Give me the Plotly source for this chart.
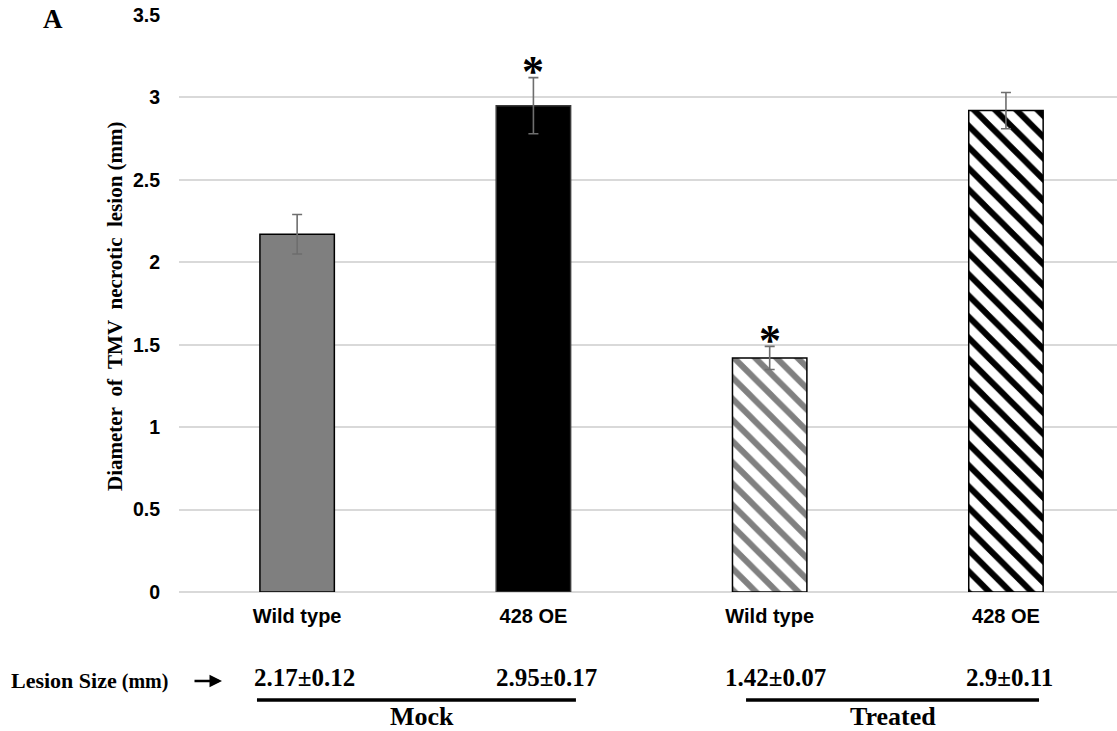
import plotly.graph_objects as go

# ---- data ----
categories = ["Wild type", "428 OE", "Wild type", "428 OE"]
groups = ["Mock", "Treated"]
values = [2.17, 2.95, 1.42, 2.92]
errors = [0.12, 0.17, 0.07, 0.11]
significant = [False, True, True, False]
value_labels = ["2.17±0.12", "2.95±0.17", "1.42±0.07", "2.9±0.11"]
y_ticks = [0, 0.5, 1, 1.5, 2, 2.5, 3, 3.5]
y_ticktext = ["0", "0.5", "1", "1.5", "2", "2.5", "3", "3.5"]

W, H = 1117, 731
L, R, T, B = 179, 0, 15, 139
pw, ph = W - L - R, H - T - B

def px(xp):
    return (xp - L) / pw

def py(yp):
    return (H - B - yp) / ph

SANS = "Liberation Sans, Arial, sans-serif"
SERIF = "Liberation Serif, Times New Roman, serif"

x_idx = list(range(len(categories)))

fill_colors = ["#7f7f7f", "#000000", "#ffffff", "#ffffff"]
line_colors = ["#000000", "#3a3a3a", "#000000", "#000000"]
pattern_shapes = ["", "", "\\", "\\"]
pattern_fg = ["#7f7f7f", "#000000", "#808080", "#000000"]

fig = go.Figure()
for i in x_idx:
    marker = dict(color=fill_colors[i], line=dict(color=line_colors[i], width=1.5))
    if pattern_shapes[i]:
        marker["pattern"] = dict(shape=pattern_shapes[i], fgcolor=pattern_fg[i],
                                 bgcolor="#ffffff", size=15, solidity=0.4,
                                 fillmode="replace", fgopacity=1)
    fig.add_trace(go.Bar(
        x=[i], y=[values[i]], width=0.315, marker=marker,
        error_y=dict(type="data", array=[errors[i]], visible=True, color="#6e6e6e",
                     thickness=1.6, width=5),
        showlegend=False, hoverinfo="skip",
    ))

annotations = []
# significance asterisks
for i, (v, e, s) in enumerate(zip(values, errors, significant)):
    if s:
        annotations.append(dict(x=i, y=v + e, xref="x", yref="y", text="<b>*</b>",
                                showarrow=False, yanchor="middle", yshift=6,
                                font=dict(family=SERIF, size=44, color="#000")))

# value labels below axis
val_shift = [7, 13, 6, 4]
for i, lab in enumerate(value_labels):
    annotations.append(dict(x=i, y=py(677), xref="x", yref="paper", text="<b>%s</b>" % lab,
                            showarrow=False, xshift=val_shift[i], yanchor="middle",
                            font=dict(family=SERIF, size=25, color="#000")))

# group labels
group_x = [0.53, 2.52]
for gx, g in zip(group_x, groups):
    annotations.append(dict(x=gx, y=py(716), xref="x", yref="paper", text="<b>%s</b>" % g,
                            showarrow=False, yanchor="middle",
                            font=dict(family=SERIF, size=26, color="#000")))

# row label and arrow
annotations.append(dict(x=px(89), y=py(680), xref="paper", yref="paper",
                        text="<b>Lesion Size<span style='font-size:20px'> (mm)</span></b>",
                        showarrow=False, xanchor="center", yanchor="middle",
                        font=dict(family=SERIF, size=22, color="#000")))
annotations.append(dict(x=px(222), y=py(681), xref="paper", yref="paper", text="",
                        showarrow=True, ax=-29, ay=0, arrowhead=2, arrowsize=1,
                        arrowwidth=2.5, arrowcolor="#000"))

# panel letter
annotations.append(dict(x=px(53), y=py(19), xref="paper", yref="paper", text="<b>A</b>",
                        showarrow=False, xanchor="center", yanchor="middle",
                        font=dict(family=SERIF, size=27, color="#000")))

# y axis title
sp = "\u00a0 "
annotations.append(dict(x=px(115), y=py(306), xref="paper", yref="paper",
                        text="<b>Diameter" + sp + "of" + sp + "TMV" + sp + "necrotic" + sp + "lesion (mm)</b>",
                        textangle=-90, showarrow=False, xanchor="center", yanchor="middle",
                        font=dict(family=SERIF, size=21, color="#000")))

# group underlines
shapes = [
    dict(type="line", xref="x", yref="paper", x0=-0.17, x1=1.18, y0=py(700), y1=py(700),
         line=dict(color="#000", width=3.5)),
    dict(type="line", xref="x", yref="paper", x0=1.90, x1=3.14, y0=py(700), y1=py(700),
         line=dict(color="#000", width=3.5)),
]

fig.update_layout(
    width=W, height=H,
    margin=dict(l=L, r=R, t=T, b=B, pad=0),
    paper_bgcolor="#ffffff", plot_bgcolor="#ffffff",
    annotations=annotations, shapes=shapes,
    barmode="overlay",
    xaxis=dict(range=[-0.5, 3.47], tickmode="array", tickvals=x_idx,
               ticktext=["<b>%s</b>" % c for c in categories],
               tickfont=dict(family=SANS, size=20, color="#000"),
               showgrid=False, zeroline=False, showline=False, ticks="",
               ticklabelstandoff=10, fixedrange=True),
    yaxis=dict(range=[0, 3.5], tickmode="array", tickvals=y_ticks,
               ticktext=["<b>%s</b>" % t for t in y_ticktext],
               tickfont=dict(family=SANS, size=19.5, color="#000"),
               showgrid=True, gridcolor="#d9d9d9", gridwidth=1.5,
               zeroline=True, zerolinecolor="#d9d9d9", zerolinewidth=1.5,
               showline=False, ticks="", ticklabelstandoff=18, fixedrange=True),
)

fig.write_html("out.html", config={"displayModeBar": False},
               post_script="document.body.style.margin='0';document.body.style.overflow='hidden';")
